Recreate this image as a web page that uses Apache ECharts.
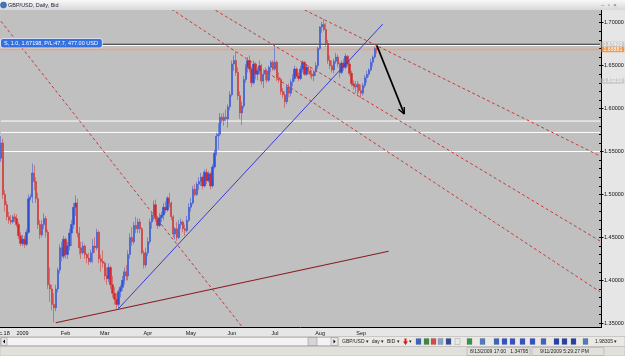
<!DOCTYPE html>
<html>
<head>
<meta charset="utf-8">
<script src="https://cdn.jsdelivr.net/npm/echarts@6/dist/echarts.min.js"></script>
<style>
html, body { margin: 0; padding: 0; background: #e6e6e6; }
#chart { width: 625px; height: 356px; }
</style>
</head>
<body>
<div id="chart"></div>
<script>
// daily bars GBP/USD, Dec 17 2008 .. Sep 11 2009 : [open, high, low, close]
var ohlc = [
    [1.5420,1.5680,1.5380,1.5600],[1.5600,1.5650,1.4950,1.5000],[1.5000,1.5050,1.4800,1.4880],[1.4880,1.4920,1.4700,1.4740],
    [1.4740,1.4800,1.4660,1.4700],[1.4700,1.4760,1.4650,1.4680],[1.4680,1.4760,1.4660,1.4740],[1.4740,1.4780,1.4680,1.4720],
    [1.4720,1.4770,1.4620,1.4650],[1.4650,1.4680,1.4480,1.4520],[1.4520,1.4560,1.4400,1.4430],[1.4430,1.4530,1.4400,1.4480],
    [1.4480,1.4520,1.4380,1.4420],[1.4420,1.4600,1.4400,1.4560],[1.4560,1.5000,1.4540,1.4950],[1.4950,1.5000,1.4930,1.4970],
    [1.4970,1.5360,1.4900,1.5250],[1.5250,1.5340,1.5050,1.5150],[1.5150,1.5200,1.4900,1.4950],[1.4950,1.5020,1.4600,1.4650],
    [1.4650,1.4700,1.4480,1.4530],[1.4530,1.4700,1.4500,1.4650],[1.4650,1.4780,1.4600,1.4720],[1.4720,1.4750,1.4500,1.4560],
    [1.4560,1.4590,1.3900,1.3950],[1.3950,1.4150,1.3750,1.3900],[1.3900,1.3950,1.3650,1.3720],[1.3720,1.3850,1.3510,1.3680],
    [1.3680,1.3950,1.3640,1.3900],[1.3900,1.4150,1.3860,1.4120],[1.4120,1.4420,1.4080,1.4380],[1.4380,1.4450,1.4220,1.4280],
    [1.4280,1.4520,1.4250,1.4480],[1.4480,1.4500,1.4250,1.4300],[1.4300,1.4450,1.4250,1.4400],[1.4400,1.4600,1.4350,1.4550],
    [1.4550,1.4700,1.4400,1.4650],[1.4650,1.4900,1.4600,1.4850],[1.4850,1.4990,1.4750,1.4900],[1.4900,1.4950,1.4500,1.4550],
    [1.4550,1.4620,1.4300,1.4380],[1.4380,1.4450,1.4250,1.4320],[1.4320,1.4450,1.4300,1.4400],[1.4400,1.4420,1.4250,1.4300],
    [1.4300,1.4320,1.4200,1.4260],[1.4260,1.4320,1.4180,1.4220],[1.4220,1.4360,1.4200,1.4320],[1.4320,1.4480,1.4200,1.4400],
    [1.4400,1.4500,1.4320,1.4380],[1.4380,1.4600,1.4350,1.4560],[1.4560,1.4580,1.4200,1.4250],[1.4250,1.4300,1.4100,1.4220],
    [1.4220,1.4350,1.4150,1.4200],[1.4200,1.4220,1.4000,1.4050],[1.4050,1.4150,1.3950,1.4020],[1.4020,1.4200,1.3980,1.4150],
    [1.4150,1.4170,1.3900,1.3950],[1.3950,1.4050,1.3800,1.3850],[1.3850,1.3920,1.3720,1.3780],[1.3780,1.3850,1.3670,1.3720],
    [1.3720,1.3900,1.3670,1.3870],[1.3870,1.3950,1.3800,1.3920],[1.3920,1.4050,1.3880,1.4000],[1.4000,1.4150,1.3950,1.4100],
    [1.4100,1.4180,1.4000,1.4050],[1.4050,1.4350,1.4000,1.4300],[1.4300,1.4550,1.4250,1.4500],[1.4500,1.4620,1.4400,1.4450],
    [1.4450,1.4680,1.4420,1.4640],[1.4640,1.4740,1.4550,1.4600],[1.4600,1.4720,1.4550,1.4680],[1.4680,1.4720,1.4550,1.4600],
    [1.4600,1.4620,1.4300,1.4320],[1.4320,1.4350,1.4140,1.4180],[1.4180,1.4380,1.4150,1.4320],[1.4320,1.4500,1.4280,1.4450],
    [1.4450,1.4720,1.4420,1.4680],[1.4680,1.4800,1.4600,1.4760],[1.4760,1.4930,1.4700,1.4880],[1.4880,1.4940,1.4680,1.4720],
    [1.4720,1.4750,1.4600,1.4640],[1.4640,1.4780,1.4620,1.4730],[1.4730,1.4800,1.4680,1.4760],[1.4760,1.4900,1.4700,1.4850],
    [1.4850,1.4920,1.4780,1.4820],[1.4820,1.4980,1.4800,1.4960],[1.4960,1.5020,1.4850,1.4900],[1.4900,1.4920,1.4700,1.4740],
    [1.4740,1.4760,1.4500,1.4540],[1.4540,1.4620,1.4480,1.4600],[1.4600,1.4680,1.4460,1.4500],[1.4500,1.4700,1.4480,1.4650],
    [1.4650,1.4720,1.4600,1.4680],[1.4680,1.4700,1.4560,1.4600],[1.4600,1.4650,1.4520,1.4580],[1.4580,1.4750,1.4560,1.4700],
    [1.4700,1.4900,1.4680,1.4850],[1.4850,1.4960,1.4800,1.4900],[1.4900,1.5100,1.4880,1.5060],[1.5060,1.5120,1.4980,1.5000],
    [1.5000,1.5150,1.4980,1.5120],[1.5120,1.5200,1.5050,1.5150],[1.5150,1.5250,1.5100,1.5200],[1.5200,1.5220,1.5060,1.5100],
    [1.5100,1.5290,1.5080,1.5260],[1.5260,1.5300,1.5120,1.5160],[1.5160,1.5270,1.5140,1.5240],[1.5240,1.5260,1.5060,1.5100],
    [1.5100,1.5350,1.5080,1.5320],[1.5320,1.5520,1.5300,1.5480],[1.5480,1.5720,1.5450,1.5680],[1.5680,1.5830,1.5520,1.5700],
    [1.5700,1.5950,1.5680,1.5900],[1.5900,1.5940,1.5830,1.5860],[1.5860,1.5950,1.5800,1.5900],[1.5900,1.5990,1.5850,1.5880],
    [1.5880,1.6050,1.5780,1.6020],[1.6020,1.6200,1.5980,1.6160],[1.6160,1.6560,1.6140,1.6520],[1.6520,1.6620,1.6440,1.6560],
    [1.6560,1.6660,1.6380,1.6420],[1.6420,1.6480,1.6100,1.6150],[1.6150,1.6200,1.5880,1.5950],[1.5950,1.6080,1.5810,1.6030],
    [1.6030,1.6380,1.6000,1.6340],[1.6340,1.6520,1.6300,1.6480],[1.6480,1.6600,1.6420,1.6560],[1.6560,1.6620,1.6420,1.6460],
    [1.6460,1.6490,1.6250,1.6300],[1.6300,1.6560,1.6280,1.6520],[1.6520,1.6540,1.6340,1.6400],[1.6400,1.6480,1.6330,1.6440],
    [1.6440,1.6560,1.6400,1.6500],[1.6500,1.6520,1.6280,1.6320],[1.6320,1.6440,1.6240,1.6400],[1.6400,1.6480,1.6330,1.6440],
    [1.6440,1.6460,1.6300,1.6330],[1.6330,1.6500,1.6310,1.6480],[1.6480,1.6560,1.6420,1.6540],[1.6540,1.6560,1.6440,1.6460],
    [1.6460,1.6744,1.6440,1.6540],[1.6540,1.6560,1.6320,1.6360],[1.6360,1.6420,1.6300,1.6340],[1.6340,1.6360,1.6160,1.6200],
    [1.6200,1.6240,1.6120,1.6160],[1.6160,1.6200,1.6010,1.6080],[1.6080,1.6280,1.6050,1.6250],[1.6250,1.6290,1.6130,1.6180],
    [1.6180,1.6340,1.6140,1.6310],[1.6310,1.6400,1.6260,1.6350],[1.6350,1.6500,1.6320,1.6460],[1.6460,1.6480,1.6360,1.6380],
    [1.6380,1.6420,1.6320,1.6350],[1.6350,1.6500,1.6330,1.6460],[1.6460,1.6560,1.6420,1.6540],[1.6540,1.6550,1.6380,1.6400],
    [1.6400,1.6520,1.6380,1.6480],[1.6480,1.6500,1.6400,1.6440],[1.6440,1.6480,1.6360,1.6400],[1.6400,1.6450,1.6340,1.6380],
    [1.6380,1.6450,1.6320,1.6430],[1.6430,1.6540,1.6380,1.6500],[1.6500,1.6720,1.6460,1.6700],[1.6700,1.6960,1.6680,1.6950],
    [1.6950,1.7010,1.6880,1.6980],[1.6980,1.7043,1.6900,1.6920],[1.6920,1.7000,1.6720,1.6760],[1.6760,1.6800,1.6520,1.6560],
    [1.6560,1.6620,1.6460,1.6500],[1.6500,1.6560,1.6420,1.6450],[1.6450,1.6580,1.6410,1.6550],[1.6550,1.6650,1.6520,1.6600],
    [1.6600,1.6630,1.6480,1.6520],[1.6520,1.6540,1.6360,1.6420],[1.6420,1.6560,1.6400,1.6530],[1.6530,1.6580,1.6440,1.6480],
    [1.6480,1.6640,1.6460,1.6610],[1.6610,1.6620,1.6490,1.6520],[1.6520,1.6560,1.6380,1.6410],[1.6410,1.6440,1.6260,1.6290],
    [1.6290,1.6330,1.6220,1.6270],[1.6270,1.6320,1.6180,1.6250],[1.6250,1.6320,1.6160,1.6280],[1.6280,1.6300,1.6180,1.6210],
    [1.6210,1.6280,1.6125,1.6180],[1.6180,1.6300,1.6150,1.6270],[1.6270,1.6390,1.6240,1.6360],[1.6360,1.6440,1.6300,1.6400],
    [1.6400,1.6470,1.6370,1.6450],[1.6450,1.6580,1.6430,1.6540],[1.6540,1.6620,1.6490,1.6600],[1.6600,1.6720,1.6580,1.6700],
    [1.6700,1.6740,1.6640,1.6688]
];
var slotCount = 307; // bars that fit on screen (rest is empty future)
var monthLabels = ['2009', 'Feb', 'Mar', 'Apr', 'May', 'Jun', 'Jul', 'Aug', 'Sep', 'Oct', 'Nov', 'Dec'];
var firstLabel = 'Dec.18';
var priceLabels = [1.35, 1.40, 1.45, 1.50, 1.55, 1.60, 1.65, 1.70];
var priceMinorTicks = [1.35, 1.36, 1.37, 1.38, 1.39, 1.40, 1.41, 1.42, 1.43, 1.44, 1.45, 1.46, 1.47, 1.48, 1.49,
    1.50, 1.51, 1.52, 1.53, 1.54, 1.55, 1.56, 1.57, 1.58, 1.59, 1.60, 1.61, 1.62, 1.63, 1.64, 1.65, 1.66,
    1.67, 1.68, 1.69, 1.70, 1.71];

// drawn objects: [bar index, price]
var dashLines = [
    [[0, 1.7017], [130, 1.3262]],
    [[80, 1.7264], [306, 1.3867]],
    [[100, 1.7276], [306, 1.4458]],
    [[140, 1.7318], [306, 1.5448]]
];
var blueTrend = [[60, 1.3671], [195, 1.6983]];
var maroonTrend = [[28, 1.3506], [198, 1.4339]];
var arrowLine = [[192, 1.6735], [206, 1.5937]];
var arrowHead = [[206.25, 1.6018], [206, 1.5937], [203.4, 1.5993]];

// horizontal levels
var whiteLevels = [1.6736, 1.5855, 1.5722, 1.5500];
var pendingLevel = 1.6749, pendingTag = '1.67400';
var bidLevel = 1.66881, bidTag = '1.66881';
var stopLevel = 1.6321, stopTag = '1.63210';
var tradeLevel = 1.67198, tradeText = 'S, 1.0, 1.67198, P/L:47.7, 477.00 USD';

var titleText = 'GBP/USD, Daily, Bid';
var statusTexts = ['8/13/2009 17:00   1.34795', '9/11/2009 5:29:27 PM'];

var FONT = '"Liberation Sans", Arial, sans-serif';
var CLEAR = 'rgba(0,0,0,0)';

/* weekday calendar for the category axis */
var days = [];
var d = new Date(Date.UTC(2008, 11, 17));
while (days.length < slotCount) {
    var wd = d.getUTCDay();
    if (wd !== 0 && wd !== 6) days.push(d.toISOString().slice(0, 10));
    d.setUTCDate(d.getUTCDate() + 1);
}
function monthStart(i) {
    return i > 0 && days[i].slice(0, 7) !== days[i - 1].slice(0, 7);
}

var chart = echarts.init(document.getElementById('chart'));

var candles = ohlc.map(function (r) { return [r[0], r[3], r[2], r[1]]; });

// a horizontal level spanning the whole screen, optional tag on the price scale
function level(value, color, width, text, bg, z) {
    var s = {
        type: 'line', silent: true, symbol: 'none', z: z || 2,
        data: [[0, value], [slotCount - 1, value]],
        lineStyle: {color: color, width: width}
    };
    if (text) {
        s.endLabel = {show: true, formatter: text, distance: 1.5, color: '#ffffff', fontSize: 5.2, lineHeight: 5.4,
            fontFamily: FONT, backgroundColor: bg, padding: [0, 2, 0, 2]};
    }
    return s;
}

var series = [{
    type: 'candlestick',
    data: candles,
    barWidth: 1.8,
    itemStyle: {color: '#2f4fd8', color0: '#d42828', borderColor: '#2f4fd8', borderColor0: '#d42828',
        borderColorDoji: '#d42828', borderWidth: 0.5},
    z: 3
}];

whiteLevels.forEach(function (v) { series.push(level(v, '#ffffff', 1)); });
series.push(level(pendingLevel, '#333333', 1, pendingTag, '#c9c9c9'));
series.push(level(bidLevel, '#e9a57c', 1.6, bidTag, '#f0994c'));
series.push(level(stopLevel, CLEAR, 1, stopTag, '#c9c9c9'));
series.push({
    type: 'line', data: [], silent: true,
    markLine: {
        silent: true, symbol: ['none', 'none'], animation: false,
        lineStyle: {color: CLEAR},
        label: {
            show: true, position: 'insideStartTop', distance: 1, formatter: tradeText,
            color: '#ffffff', fontSize: 5.5, fontFamily: FONT, backgroundColor: '#3471e0',
            borderColor: '#dfe8ff', borderWidth: 0.8, borderRadius: 2, padding: [1.5, 4, 1, 3]
        },
        data: [{yAxis: tradeLevel}]
    }
});

dashLines.forEach(function (l) {
    series.push({type: 'line', data: l, symbol: 'none', silent: true, z: 4,
        lineStyle: {color: '#c8393b', width: 1, type: [3, 2.5]}});
});
series.push({type: 'line', data: blueTrend, symbol: 'none', silent: true, z: 4,
    lineStyle: {color: '#3a3ad6', width: 1}});
series.push({type: 'line', data: maroonTrend, symbol: 'none', silent: true, z: 4,
    lineStyle: {color: '#8a1c22', width: 1.1}});
series.push({type: 'line', data: arrowLine, symbol: 'none', silent: true, z: 5,
    lineStyle: {color: '#000000', width: 1.8}});
series.push({type: 'line', data: arrowHead, symbol: 'none', silent: true, z: 5,
    lineStyle: {color: '#000000', width: 1.4}});

// window chrome around the plot
var gfx = [
    {type: 'rect', shape: {x: 0, y: 0, width: 625, height: 10}, z: 10,
        style: {fill: new echarts.graphic.LinearGradient(0, 0, 0, 1, [{offset: 0, color: '#f8f8f8'}, {offset: 1, color: '#d8d8d8'}])}},
    {type: 'circle', shape: {cx: 3.5, cy: 5, r: 3}, z: 11, style: {fill: '#3d78c4', stroke: '#1d4f8f', lineWidth: 0.5}},
    {type: 'text', x: 8, y: 5.5, z: 11, style: {text: titleText, font: '5.5px ' + FONT, fill: '#1c1c3c', verticalAlign: 'middle'}},
    {type: 'text', x: 601, y: 5.5, z: 11, style: {text: '–  ▫  ×', font: '6px ' + FONT, fill: '#777777', verticalAlign: 'middle'}},
    // scroll bar row
    {type: 'rect', shape: {x: 0, y: 336.5, width: 625, height: 10}, z: 10, style: {fill: '#ebe9e3', stroke: '#a8a8a8', lineWidth: 0.5}},
    {type: 'rect', shape: {x: 1, y: 337.5, width: 337, height: 8}, z: 11, style: {fill: '#f3f3f3', stroke: '#9a9a9a', lineWidth: 0.5}},
    {type: 'rect', shape: {x: 1, y: 337.5, width: 6, height: 8}, z: 12, style: {fill: '#e6e6e6', stroke: '#8a8a8a', lineWidth: 0.5}},
    {type: 'polygon', shape: {points: [[5, 339.5], [5, 343.5], [3, 341.5]]}, z: 13, style: {fill: '#000'}},
    {type: 'rect', shape: {x: 308, y: 337.5, width: 9, height: 8}, z: 12, style: {fill: '#d6d6d6', stroke: '#8a8a8a', lineWidth: 0.5}},
    {type: 'rect', shape: {x: 331, y: 337.5, width: 7, height: 8}, z: 12, style: {fill: '#e6e6e6', stroke: '#8a8a8a', lineWidth: 0.5}},
    {type: 'polygon', shape: {points: [[333.5, 339.5], [333.5, 343.5], [335.5, 341.5]]}, z: 13, style: {fill: '#000'}},
    {type: 'text', x: 342, y: 341.8, z: 12, style: {text: 'GBP/USD ▾  day ▾  BID ▾', font: '5px ' + FONT, fill: '#222', verticalAlign: 'middle'}},
    {type: 'polygon', shape: {points: [[404.5, 338.5], [406.5, 338.5], [406.5, 341.5], [408, 341.5], [405.5, 345], [403, 341.5], [404.5, 341.5]]}, z: 12, style: {fill: '#d02020'}},
    {type: 'text', x: 409, y: 341.8, z: 12, style: {text: '▾', font: '5px ' + FONT, fill: '#222', verticalAlign: 'middle'}},
    {type: 'text', x: 595, y: 341.8, z: 12, style: {text: '1.98305 ▾', font: '5px ' + FONT, fill: '#222', verticalAlign: 'middle'}},
    // status bar
    {type: 'rect', shape: {x: 0, y: 346.5, width: 625, height: 9.5}, z: 10, style: {fill: '#e2e0da', stroke: '#b0b0b0', lineWidth: 0.5}},
    {type: 'rect', shape: {x: 467, y: 347.5, width: 63, height: 8}, z: 11, style: {fill: 'none', stroke: '#a0a0a0', lineWidth: 0.5}},
    {type: 'rect', shape: {x: 532, y: 347.5, width: 72, height: 8}, z: 11, style: {fill: 'none', stroke: '#a0a0a0', lineWidth: 0.5}},
    {type: 'text', x: 470, y: 351.8, z: 12, style: {text: statusTexts[0], font: '5px ' + FONT, fill: '#222', verticalAlign: 'middle'}},
    {type: 'text', x: 540, y: 351.8, z: 12, style: {text: statusTexts[1], font: '5px ' + FONT, fill: '#222', verticalAlign: 'middle'}}
];
// toolbar icons
var iconX = [416, 424, 431, 438, 446, 455, 467, 480, 494, 502, 510, 520, 530, 541, 554, 562, 571, 583];
var iconC = ['#3a63c8', '#3b8a3b', '#d44', '#8aa0c8', '#2a4a9a', '#e8e8e8', '#2e9a3e', '#4a7ac8', '#3a63c8', '#3050d0',
    '#3050d0', '#3050d0', '#3050d0', '#3a63c8', '#2040b0', '#2040b0', '#2040b0', '#4a7ac8'];
iconX.forEach(function (x, i) {
    gfx.push({type: 'rect', shape: {x: x, y: 338.5, width: 5, height: 6}, z: 12,
        style: {fill: iconC[i], stroke: '#777', lineWidth: 0.3}});
});

var option = {
    animation: false,
    backgroundColor: '#e6e6e6',
    textStyle: {fontFamily: FONT},
    grid: {left: 0, right: 24, top: 10, bottom: 28.5, show: true, backgroundColor: '#c0c0c0', borderWidth: 0,
        containLabel: false, outerBoundsMode: 'none'},
    xAxis: {
        type: 'category',
        data: days,
        boundaryGap: true,
        axisLine: {lineStyle: {color: '#000000', width: 1}},
        axisTick: {
            alignWithLabel: true, inside: true, length: 3, lineStyle: {color: '#000'},
            interval: function (i) { return monthStart(i) || i % 10 === 5; }
        },
        axisLabel: {
            margin: 3, fontSize: 5.5, color: '#111', showMinLabel: true, alignMinLabel: 'center',
            interval: function (i) { return i === 0 || (monthStart(i) && i < ohlc.length); },
            formatter: function (v, i) {
                if (i === 0) return firstLabel;
                return monthLabels[parseInt(v.slice(5, 7), 10) - 1];
            }
        },
        splitLine: {show: false}
    },
    yAxis: [{
        type: 'value', position: 'right', min: 1.34511, max: 1.71479, scale: true,
        axisLine: {show: true, lineStyle: {color: '#000000', width: 1}},
        axisTick: {show: true, customValues: priceLabels, length: 2.5, lineStyle: {color: '#000'}},
        axisLabel: {customValues: priceLabels, margin: 3, fontSize: 5.5, color: '#111',
            formatter: function (v) { return v.toFixed(5); }},
        splitLine: {show: false}
    }, {
        type: 'value', position: 'right', min: 1.34511, max: 1.71479, scale: true,
        axisLine: {show: false},
        axisTick: {show: true, inside: true, customValues: priceMinorTicks, length: 2, lineStyle: {color: '#000'}},
        axisLabel: {show: false},
        splitLine: {show: false}
    }],
    series: series,
    graphic: gfx
};
chart.setOption(option);
</script>
</body>
</html>
